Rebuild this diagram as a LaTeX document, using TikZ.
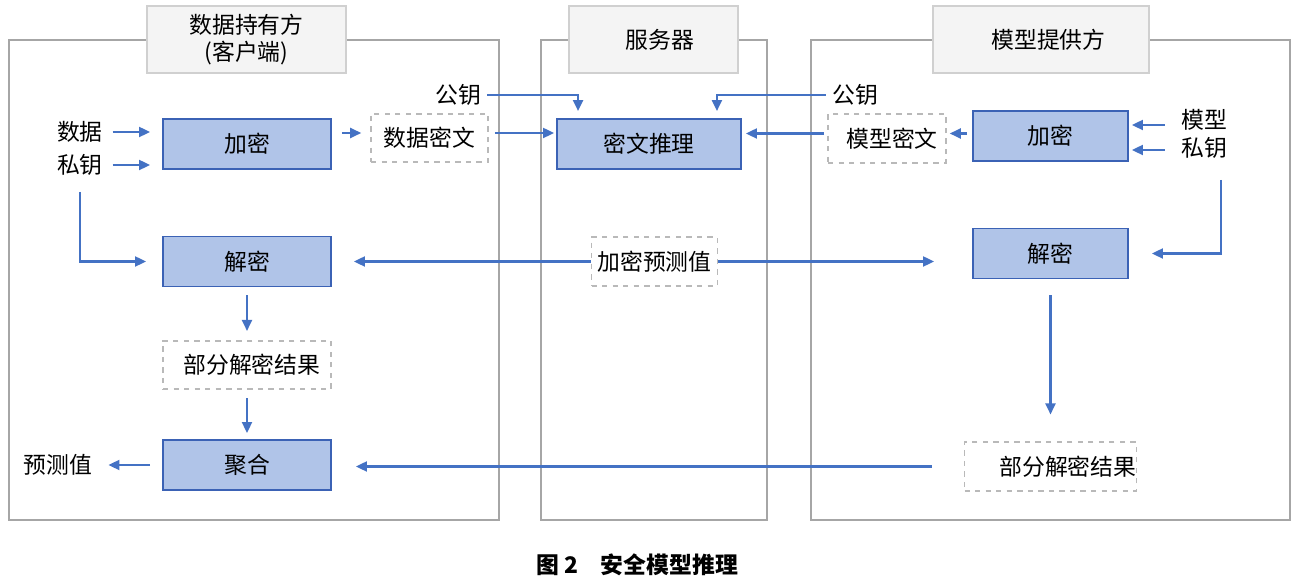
\documentclass[tikz,border=0pt]{standalone}
\usepackage{fontspec}
\usepackage{xcolor}
\usepackage{tikz}
\usetikzlibrary{arrows.meta,positioning,calc}
\newfontfamily\cjk{Noto Sans CJK SC}
\definecolor{boxfill}{HTML}{B0C4E8}
\definecolor{boxline}{HTML}{3B62B5}
\definecolor{arrblue}{HTML}{4472C4}
\definecolor{framegray}{HTML}{A6A6A6}
\definecolor{titlefill}{HTML}{F4F4F4}
\definecolor{titleline}{HTML}{D0D0D0}

\begin{document}
\begin{tikzpicture}[x=0.02cm,y=-0.02cm,
   every node/.style={font=\cjk\fontsize{13}{15}\selectfont},
   frame/.style={draw=framegray,line width=1pt,rectangle,minimum height=9.6cm},
   title/.style={draw=titleline,fill=titlefill,line width=1pt,rectangle,
                 minimum height=1.34cm,align=center},
   proc/.style={draw=boxline,fill=boxfill,line width=1.1pt,rectangle,
                minimum height=1cm},
   data/.style={draw=gray!55,dashed,line width=0.9pt,rectangle,
                minimum height=0.97cm},
   arr/.style={-{Triangle[length=2.2mm,width=2mm]},line width=1.2pt,arrblue}
]
\useasboundingbox (0,0) rectangle (1296,580);

% Frames and titles
\node[frame,minimum width=9.8cm] (fL) at (254,280) {};
\node[frame,minimum width=4.52cm] (fM) at (654,280) {};
\node[frame,minimum width=9.58cm] (fR) at (1050.5,280) {};
\node[title,minimum width=3.98cm] (tL) at (246.5,39.5) {数据持有方\\(客户端)};
\node[title,minimum width=3.38cm] (tM) at (653.5,39.5) {\hspace{0.25cm}服务器};
\node[title,minimum width=4.32cm] (tR) at (1041,39.5) {\hspace{0.3cm}模型提供方};

% Data holder
\node[proc,minimum width=3.36cm] (encL) at (247,144) {加密};
\node[proc,minimum width=3.36cm] (decL) at (247,261.5) {解密};
\node[data,minimum width=3.36cm] (parL) at (247,365) {\hspace{0.2cm}部分解密结果};
\node[proc,minimum width=3.36cm] (aggL) at (247,465) {聚合};
\node[data,minimum width=2.34cm] (ctD) at (429.5,138) {数据密文};
\node (dataIn) at (80,132) {数据};
\node (skL) at (80,165) {私钥};
\node (pkL) at (458,95) {公钥};
\node (pred) at (58,465) {预测值};

% Server
\node[proc,minimum width=3.68cm] (infer) at (649,144) {密文推理};
\node[data,minimum width=2.38cm] (predEnc) at (654.5,261.5) {加密预测值};

% Model provider
\node[proc,minimum width=3.1cm] (encR) at (1050.5,136) {加密};
\node[proc,minimum width=3.1cm] (decR) at (1050.5,253.5) {解密};
\node[data,minimum width=3.38cm,inner xsep=0pt,text width=3.44cm,align=right] (parR) at (1050.5,466.5) {部分解密结果};
\node[data,minimum width=2.36cm] (ctM) at (887,138.5) {\hspace{0.2cm}模型密文};
\node (modelIn) at (1204,120) {模型};
\node (skR) at (1204,148) {私钥};
\node (pkR) at (855,95) {公钥};

% Caption
\node[font=\cjk\bfseries\fontsize{13}{15}\selectfont] (cap) at (637,565) {图 2\quad 安全模型推理};

% Connectors
\draw[arr,shorten <=2pt,shorten >=0.24cm] (dataIn.east) -- (dataIn.east -| encL.west);
\draw[arr,shorten <=2pt,shorten >=0.24cm] (skL.east) -- (skL.east -| encL.west);
\draw[arr,shorten <=0.2cm,shorten >=0.32cm] (skL.south) |- (decL.west);
\draw[arr,shorten <=0.2cm,shorten >=0.18cm] ([yshift=0.1cm]ctD.west -| encL.east) -- ([yshift=0.1cm]ctD.west);
\draw[arr,shorten <=0.12cm,shorten >=0.04cm] ([yshift=0.1cm]ctD.east) -- ([yshift=0.1cm]ctD.east -| infer.west);
\draw[arr] (pkL.east) -| ([xshift=0.44cm,yshift=0.14cm]infer.north west);
\draw[arr] (pkR.west) -| ([xshift=-0.5cm,yshift=0.14cm]infer.north east);
\draw[arr,shorten <=0.06cm,shorten >=0.08cm] ([yshift=0.1cm]ctM.west) -- ([yshift=0.1cm]ctM.west -| infer.east);
\draw[arr,shorten <=0.1cm,shorten >=0.06cm] ([yshift=0.1cm]ctM.east -| encR.west) -- ([yshift=0.1cm]ctM.east);
\draw[arr,shorten <=0.2cm,shorten >=0.06cm] ([yshift=-0.1cm]modelIn.west) -- ([yshift=-0.1cm]modelIn.west -| encR.east);
\draw[arr,shorten <=0.2cm,shorten >=0.06cm] ([yshift=-0.04cm]skR.west) -- ([yshift=-0.04cm]skR.west -| encR.east);
\draw[arr,shorten <=0.3cm,shorten >=0.46cm] ([xshift=0.34cm]skR.south) |- (decR.east);
\draw[arr,shorten <=0.32cm,shorten >=0.54cm] (decR.south) -- (parR.north);
\draw[arr,shorten <=0.64cm,shorten >=0.48cm] (parR.west) -- (parR.west -| aggL.east);
\draw[arr,shorten >=0.44cm] (predEnc.west) -- (decL.east);
\draw[arr,shorten >=0.76cm] (predEnc.east) -- (predEnc.east -| decR.west);
\draw[arr,shorten <=0.16cm,shorten >=0.18cm] (decL.south) -- (parL.north);
\draw[arr,shorten <=0.16cm,shorten >=0.12cm] (parL.south) -- (aggL.north);
\draw[arr,shorten <=0.24cm,shorten >=0.2cm] (aggL.west) -- (pred.east);
\end{tikzpicture}
\end{document}
